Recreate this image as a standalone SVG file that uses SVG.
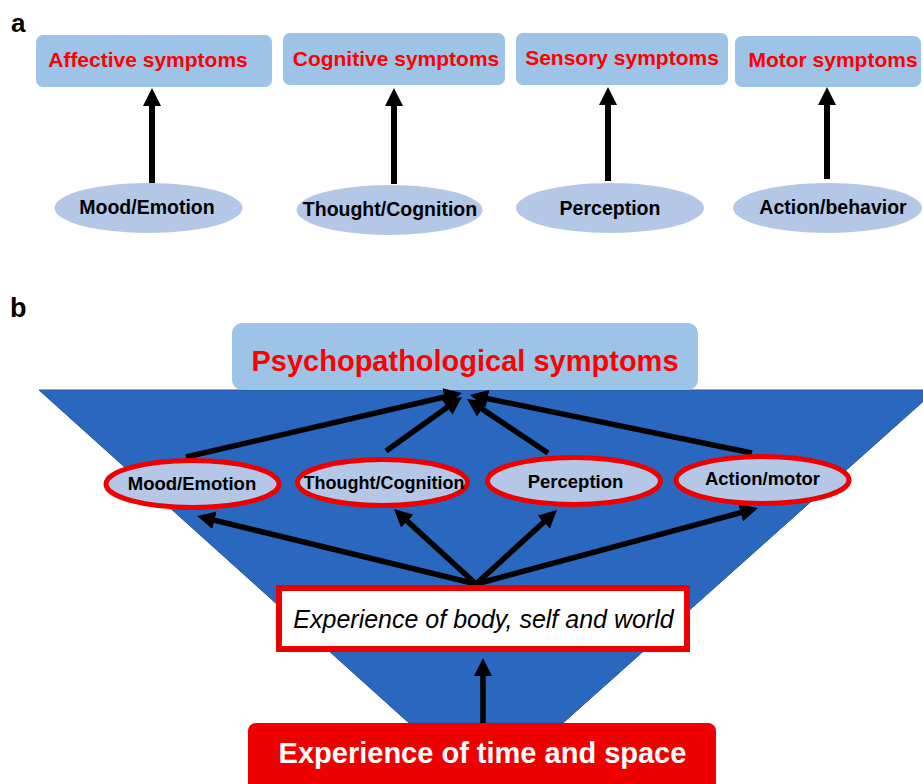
<svg xmlns="http://www.w3.org/2000/svg" width="923" height="784" viewBox="0 0 923 784">
<style>
.lbl{font-family:"Liberation Sans",Arial,sans-serif;font-weight:bold;fill:#000}
.box{fill:#9dc3e6}
.oval{fill:#b4c7e7}
.roval{fill:#b4c7e7;stroke:#ee0000;stroke-width:5}
.rt{font-family:"Liberation Sans",Arial,sans-serif;font-weight:bold;fill:#ff0000;text-anchor:middle}
.bt{font-family:"Liberation Sans",Arial,sans-serif;font-weight:bold;fill:#000;text-anchor:middle}
.conA{stroke:#000;stroke-width:6;fill:none;marker-end:url(#ah)}
.conB{stroke:#000;stroke-width:5.5;fill:none;marker-end:url(#ah)}
</style>
<defs>
<marker id="ah" markerUnits="userSpaceOnUse" markerWidth="18" markerHeight="18" viewBox="0 0 18 18" refX="10" refY="9" orient="auto">
<path d="M0,0 L18,9 L0,18 Z" fill="#000"/>
</marker>
</defs>
<rect width="923" height="784" fill="#fff"/>

<text class="lbl" x="11" y="32" font-size="26">a</text>
<text class="lbl" x="10" y="317" font-size="27">b</text>

<!-- Panel a -->
<g id="a-affective"><rect class="box" x="36" y="35" width="236" height="52" rx="7"/><text class="rt" x="148" y="67" font-size="21">Affective symptoms</text></g>
<g id="a-cognitive"><rect class="box" x="283" y="33" width="222" height="52" rx="7"/><text class="rt" x="396" y="66" font-size="21">Cognitive symptoms</text></g>
<g id="a-sensory"><rect class="box" x="516" y="33" width="212" height="52" rx="7"/><text class="rt" x="622" y="65" font-size="21">Sensory symptoms</text></g>
<g id="a-motor"><rect class="box" x="735" y="36" width="186" height="51" rx="7"/><text class="rt" x="833" y="67" font-size="21">Motor symptoms</text></g>

<g id="a-mood"><ellipse class="oval" cx="148.5" cy="208" rx="94" ry="25"/><text class="bt" x="147" y="214" font-size="19.5">Mood/Emotion</text></g>
<g id="a-thought"><ellipse class="oval" cx="389.5" cy="210" rx="93" ry="25"/><text class="bt" x="390" y="216" font-size="19.5">Thought/Cognition</text></g>
<g id="a-perception"><ellipse class="oval" cx="610" cy="208" rx="94" ry="25"/><text class="bt" x="610" y="215" font-size="19.5">Perception</text></g>
<g id="a-action"><ellipse class="oval" cx="827.5" cy="208" rx="94.5" ry="25"/><text class="bt" x="833" y="214" font-size="19.5">Action/behavior</text></g>

<g id="a-connectors">
<line class="conA" x1="152" y1="183" x2="152" y2="96"/>
<line class="conA" x1="394" y1="184" x2="394" y2="96"/>
<line class="conA" x1="608" y1="181" x2="608" y2="95"/>
<line class="conA" x1="827" y1="179" x2="827" y2="95"/>
</g>

<!-- Panel b -->
<polygon id="b-funnel" points="39,390 936,390 563,723 409,723" fill="#2a68c0" stroke="#2f5597" stroke-width="1"/>

<g id="b-symptoms"><rect class="box" x="232" y="323" width="466" height="67" rx="10"/><text class="rt" x="465" y="371" font-size="29">Psychopathological symptoms</text></g>

<g id="b-connectors">
<line class="conB" x1="186" y1="457" x2="454.2" y2="394.8"/>
<line class="conB" x1="386" y1="451" x2="455.4" y2="401.6"/>
<line class="conB" x1="548" y1="453" x2="473.7" y2="403.4"/>
<line class="conB" x1="752" y1="453" x2="477.8" y2="396.6"/>
<line class="conB" x1="476" y1="584" x2="204.8" y2="517.9"/>
<line class="conB" x1="476" y1="584" x2="399.9" y2="514.4"/>
<line class="conB" x1="476" y1="584" x2="551.1" y2="515.4"/>
<line class="conB" x1="476" y1="584" x2="750.3" y2="510.1"/>
<line class="conB" x1="483" y1="723" x2="483" y2="666"/>
</g>

<g id="b-mood"><ellipse class="roval" cx="192.5" cy="484" rx="86.5" ry="23.5"/><text class="bt" x="192" y="490" font-size="18.5">Mood/Emotion</text></g>
<g id="b-thought"><ellipse class="roval" cx="382.5" cy="482.5" rx="85" ry="23"/><text class="bt" x="384" y="489" font-size="18">Thought/Cognition</text></g>
<g id="b-perception"><ellipse class="roval" cx="574" cy="481" rx="86.5" ry="23.5"/><text class="bt" x="575.5" y="488" font-size="18.5">Perception</text></g>
<g id="b-action"><ellipse class="roval" cx="762.5" cy="480" rx="86.5" ry="23.5"/><text class="bt" x="762.5" y="485" font-size="18.5">Action/motor</text></g>

<g id="b-experience"><rect x="279" y="588" width="408" height="61" fill="#fff" stroke="#ee0000" stroke-width="6"/><text x="483.5" y="628" font-family="'Liberation Sans',Arial,sans-serif" font-style="italic" font-size="25" text-anchor="middle" fill="#000">Experience of body, self and world</text></g>

<g id="b-timespace"><rect x="248" y="723" width="468" height="75" rx="8" fill="#ee0000"/><text x="482.5" y="763" font-family="'Liberation Sans',Arial,sans-serif" font-weight="bold" font-size="29" text-anchor="middle" fill="#fff">Experience of time and space</text></g>
</svg>
